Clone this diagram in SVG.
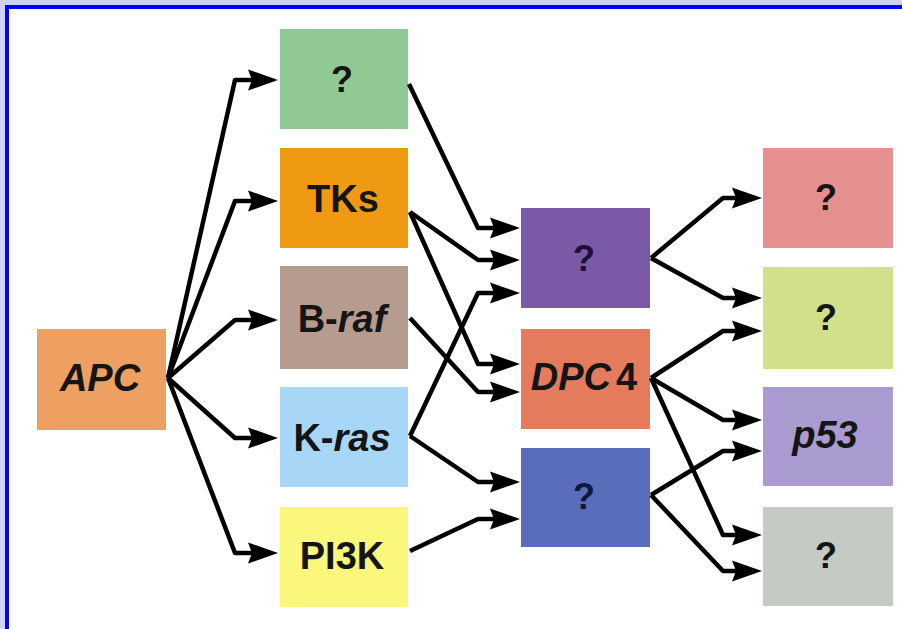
<svg xmlns="http://www.w3.org/2000/svg" width="902" height="629" viewBox="0 0 902 629">
<style>
  .lbl{font-family:"Liberation Sans","Arial",sans-serif;font-weight:bold;font-size:38px;fill:#151515;text-anchor:middle}
  .q{font-size:36px}
  .it{font-style:italic}
  .conn path{fill:none;stroke:#000;stroke-width:4.5;stroke-linejoin:round;marker-end:url(#ah)}
</style>
<defs>
  <marker id="ah" markerUnits="userSpaceOnUse" viewBox="0 0 30 24" refX="15" refY="12" markerWidth="30" markerHeight="24" orient="auto">
    <path d="M0,1.5 L30,12 L0,22.5 L4,12 Z" fill="#000"/>
  </marker>
</defs>
<rect x="0" y="0" width="902" height="629" fill="#d0d2f4"/>
<rect x="7" y="7" width="900" height="630" fill="#ffffff" stroke="#0000ff" stroke-width="4"/>

<g id="node-apc"><rect x="37" y="329" width="129" height="101" fill="#eda062"/><text class="lbl it" x="100" y="391">APC</text></g>
<g id="node-q1"><rect x="280" y="29" width="128" height="100" fill="#90c993"/><text class="lbl q" x="342" y="92">?</text></g>
<g id="node-tks"><rect x="280" y="148" width="128" height="100" fill="#f09a14"/><text class="lbl" x="343" y="212">TKs</text></g>
<g id="node-braf"><rect x="280" y="266" width="128" height="103" fill="#b59c8e"/><text class="lbl" x="342" y="332">B-<tspan class="it">raf</tspan></text></g>
<g id="node-kras"><rect x="280" y="387" width="128" height="100" fill="#a8d6f6"/><text class="lbl" x="342" y="451">K-<tspan class="it">ras</tspan></text></g>
<g id="node-pi3k"><rect x="280" y="507" width="128" height="100" fill="#fbf67c"/><text class="lbl" x="342" y="569">PI3K</text></g>

<g id="node-q2"><rect x="521" y="208" width="129" height="100" fill="#7a5aa7"/><text class="lbl q" x="584" y="271" style="fill:#1d0f35">?</text></g>
<g id="node-dpc4"><rect x="521" y="329" width="129" height="100" fill="#e47b5c"/><text class="lbl" x="584" y="390"><tspan class="it">DPC</tspan><tspan dx="5">4</tspan></text></g>
<g id="node-q3"><rect x="521" y="448" width="129" height="99" fill="#5a6dbb"/><text class="lbl q" x="584" y="509" style="fill:#0f1840">?</text></g>

<g id="node-q4"><rect x="763" y="148" width="130" height="100" fill="#e58f8f"/><text class="lbl q" x="826" y="210">?</text></g>
<g id="node-q5"><rect x="763" y="267" width="130" height="102" fill="#d3e08b"/><text class="lbl q" x="826" y="330">?</text></g>
<g id="node-p53"><rect x="763" y="387" width="130" height="99" fill="#aa9bd1"/><text class="lbl it" x="825" y="448">p53</text></g>
<g id="node-q6"><rect x="763" y="507" width="130" height="99" fill="#c3cbc4"/><text class="lbl q" x="826" y="568">?</text></g>

<g id="connectors" class="conn">
  <path d="M168,378 L235,80 L263,80"/>
  <path d="M168,378 L235,201 L263,201"/>
  <path d="M168,378 L235,320 L263,320"/>
  <path d="M168,378 L235,438 L263,438"/>
  <path d="M168,378 L235,553 L263,553"/>

  <path d="M409,84 L478,228 L505,228"/>
  <path d="M410,212 L478,260 L505,260"/>
  <path d="M410,212 L478,364 L505,364"/>
  <path d="M410,318 L478,392 L505,392"/>
  <path d="M410,436 L478,293 L505,293"/>
  <path d="M410,436 L478,482 L505,482"/>
  <path d="M410,551 L478,519 L505,519"/>

  <path d="M651,258 L723,198 L747,198"/>
  <path d="M651,258 L723,298 L747,298"/>
  <path d="M651,378 L723,331 L747,331"/>
  <path d="M651,378 L723,420 L747,420"/>
  <path d="M651,378 L723,535 L747,535"/>
  <path d="M651,495 L723,451 L747,451"/>
  <path d="M651,495 L723,571 L747,571"/>
</g>
</svg>
